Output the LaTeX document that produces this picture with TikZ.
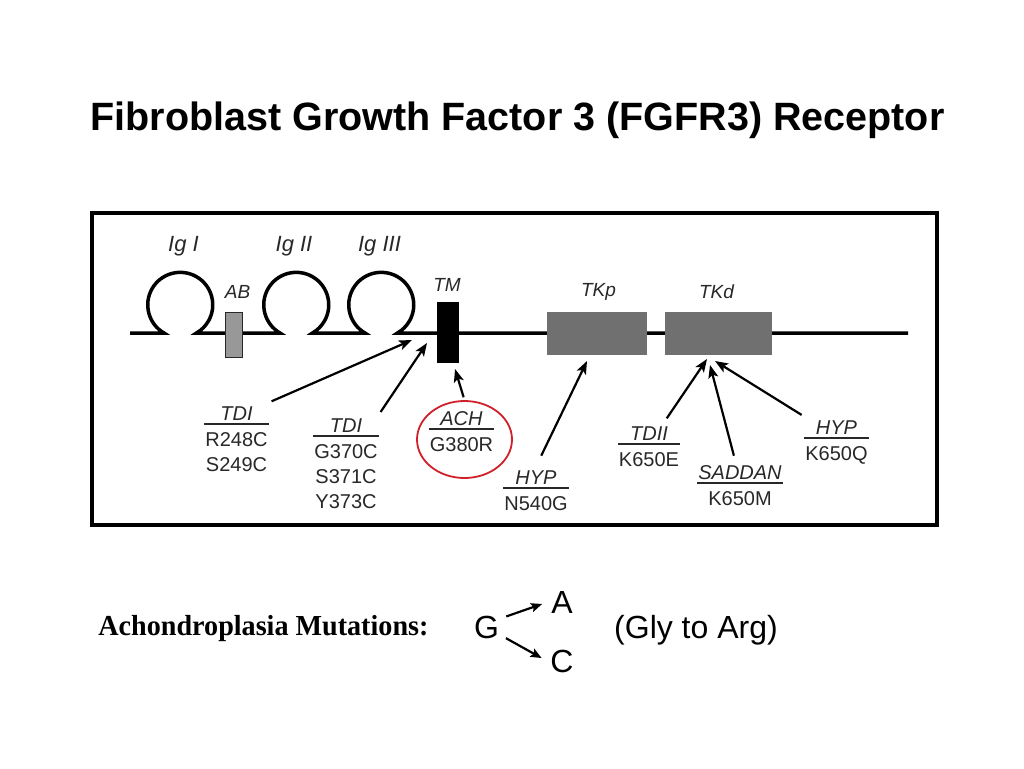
\documentclass[tikz,border=0pt]{standalone}
\usepackage{fontspec}
\setmainfont{Liberation Serif}
\setsansfont{Liberation Sans}
\usetikzlibrary{arrows.meta,shapes.geometric}
\definecolor{achred}{RGB}{208,32,42}
\definecolor{abgrey}{RGB}{152,152,152}
\definecolor{tkgrey}{RGB}{112,112,112}
\definecolor{labgrey}{RGB}{40,40,40}
\setlength{\arrayrulewidth}{1.8pt}
% mutation label: disease name over a bar, codes below
\newcommand{\mutlab}[2]{\begin{tabular}{@{\hspace{1pt}}c@{\hspace{1pt}}}\textit{#1}\\[-5pt]\hline\rule{0pt}{22pt}#2\end{tabular}}
\begin{document}
\begin{tikzpicture}[x=1pt,y=-1pt,
  domlab/.style={font=\sffamily\itshape\fontsize{19}{22}\selectfont, text=labgrey},
  iglab/.style={font=\sffamily\itshape\fontsize{22}{26}\selectfont, text=labgrey},
  mut/.style={anchor=north, inner sep=0pt, font=\sffamily\fontsize{20}{25}\selectfont, text=labgrey},
  mutarrow/.style={line width=2.2pt, -{Stealth[length=13pt,width=10pt,inset=3pt]}},
  dom/.style={draw=none, inner sep=0pt},
  big/.style={font=\sffamily\fontsize{32}{38}\selectfont, anchor=base}]
\useasboundingbox[fill=white] (0,0) rectangle (1024,768);
\node[font=\sffamily\bfseries\fontsize{39.5}{46}\selectfont, anchor=base] (title) at (517.5,130){Fibroblast Growth Factor 3 (FGFR3) Receptor};
\draw[line width=4pt] (92,213) rectangle (937,525);
% backbone with the three Ig loops
\draw[line width=3.5pt] (130,333) -- (164,333) arc[start angle=120, end angle=420, radius=32.5]
  -- (280,333) arc[start angle=120, end angle=420, radius=32.5]
  -- (365,333) arc[start angle=120, end angle=420, radius=32.5] -- (908,333);
\node[dom, fill=abgrey, draw=labgrey, line width=0.6pt, minimum width=17pt, minimum height=45pt] (ab) at (233.5,334.5){};
\node[dom, fill=black, minimum width=22pt, minimum height=61pt] (tm) at (448,332.5){};
\node[dom, fill=tkgrey, minimum width=100pt, minimum height=43pt] (tkp) at (597,333.5){};
\node[dom, fill=tkgrey, minimum width=107pt, minimum height=43pt] (tkd) at (718.5,333.5){};
\node[iglab] (ig1) at (183.5,246){Ig I};
\node[iglab] (ig2) at (294,246){Ig II};
\node[iglab] (ig3) at (379.5,246){Ig III};
\node[domlab] (ablab) at (237.5,292){AB};
\node[domlab] (tmlab) at (447,285){TM};
\node[domlab] (tkplab) at (598.5,291.5){TKp};
\node[domlab] (tkdlab) at (716.5,291.5){TKd};
% arrow tips
\coordinate (tipA) at (412,340);
\coordinate (tipB) at (427,343);
\coordinate (tipTM) at (455,369);
\coordinate (tipKp) at (587,361);
\coordinate (tipKd1) at (707,359);
\coordinate (tipKd2) at (710,365);
\coordinate (tipKd3) at (715,361);
% mutations
\node[mut] (tdiA) at (236.5,402.5){\mutlab{TDI}{R248C\\S249C}};
\node[mut] (tdiB) at (346,414.5){\mutlab{TDI}{G370C\\S371C\\Y373C}};
\node[mut] (ach) at (461.5,407.5){\mutlab{ACH}{G380R}};
\node[ellipse, draw=achred, line width=1.8pt, minimum width=95pt, minimum height=77pt] (achring) at (464.5,439.5){};
\node[mut] (hypA) at (536,466.5){\mutlab{HYP}{N540G}};
\node[mut] (tdii) at (649,422.5){\mutlab{TDII}{K650E}};
\node[mut] (saddan) at (740,461.5){\mutlab{SADDAN}{K650M}};
\node[mut] (hypB) at (836.5,416.5){\mutlab{HYP}{K650Q}};
\draw[mutarrow, shorten <=3pt] (tdiA.north east) -- (tipA);
\draw[mutarrow, shorten <=3pt] (tdiB.north east) -- (tipB);
\draw[mutarrow, shorten <=3pt] (achring.north) -- (tipTM);
\draw[mutarrow, shorten <=12pt] (hypA.north) -- (tipKp);
\draw[mutarrow, shorten <=5pt] (tdii.60) -- (tipKd1);
\draw[mutarrow, shorten <=6pt] (saddan.100) -- (tipKd2);
\draw[mutarrow, shorten <=3pt] (hypB.north west) -- (tipKd3);
% bottom line
\node[font=\bfseries\fontsize{29}{34}\selectfont, anchor=base west, xscale=0.97] (achlab) at (95,635){Achondroplasia Mutations:};
\node[big] (g) at (486.5,638){G};
\node[big] (a) at (562,613){A};
\node[big] (c) at (562,672){C};
\node[big] (gly) at (696,638){(Gly to Arg)};
\draw[line width=2.2pt, -{Stealth[length=11pt,width=9pt,inset=2pt]}, shorten <=4pt, shorten >=6pt] (g.30) -- (a.west);
\draw[line width=2.2pt, -{Stealth[length=11pt,width=9pt,inset=2pt]}, shorten <=4pt, shorten >=6pt] (g.-30) -- (c.west);
\end{tikzpicture}
\end{document}
